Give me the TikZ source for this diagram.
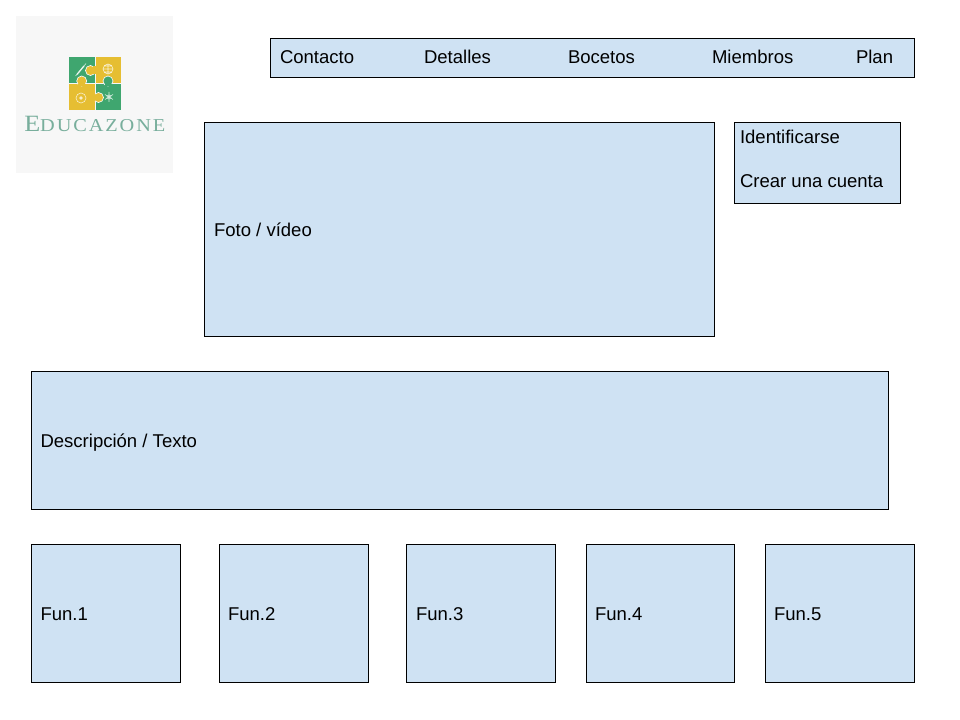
\documentclass[tikz,border=0pt]{standalone}
\usepackage{fontspec}
\setmainfont{Liberation Sans}
\newfontfamily\logofont{Liberation Serif}
\definecolor{boxblue}{HTML}{CFE2F3}
\definecolor{logobg}{HTML}{F7F7F7}
\definecolor{logogreen}{HTML}{3FA66F}
\definecolor{logoyellow}{HTML}{E6BE32}
\definecolor{logotext}{HTML}{78AE9C}
\tikzset{
  panel/.style 2 args={draw=black,fill=boxblue,line width=0.75pt,rectangle,anchor=north west,inner sep=0pt,outer sep=0pt,minimum width=#1*0.75pt,minimum height=#2*0.75pt},
  lbl/.style={anchor=base west,inner sep=0pt,outer sep=0pt,text=black,font=\fontsize{13.9pt}{16pt}\selectfont},
  greenpiece/.style={fill=logogreen,draw=logobg,line width=0.5pt},
  yellowpiece/.style={fill=logoyellow,draw=logobg,line width=0.5pt},
  iconline/.style={draw=white,line width=0.45pt,opacity=.75}
}
\begin{document}
\begin{tikzpicture}[x=0.75pt,y=-0.75pt]
\useasboundingbox (0,0) rectangle (960,720);
% logo
\fill[logobg] (16,16) rectangle (173,173);
\fill[logogreen] (69,57.5) rectangle (94.5,83);
\fill[logoyellow] (95.5,57.5) rectangle (121,83);
\fill[logoyellow] (69,84) rectangle (94.5,110);
\fill[logogreen] (95.5,84) rectangle (121,110);
% knobs
\path[yellowpiece] (90.5,70.5) circle (5);
\fill[logoyellow] (92.5,66.5) rectangle (96,74.5);
\path[yellowpiece] (81.7,81) circle (5);
\fill[logoyellow] (78,84.5) rectangle (85.5,86);
\path[greenpiece] (108,81) circle (5);
\fill[logogreen] (104.5,84.5) rectangle (111.5,86);
\path[yellowpiece] (98.5,97.5) circle (5);
\fill[logoyellow] (92,93.5) rectangle (95,101.5);
\draw[iconline] (75.5,76) -- (86,63.5);
\draw[iconline,line width=1pt] (77,74.5) -- (84,66);
\draw[iconline] (108,69) circle (5) (103,69) -- (113,69) (108,64) -- (108,74) (104,66) -- (112,66) (104,72) -- (112,72);
\draw[iconline] (81,98) circle (5);
\fill[white,opacity=.75] (81,98) circle (1.8);
\draw[iconline] (109,97) circle (2) (109,92) -- (109,102) (105,94.5) -- (113,99.5) (105,99.5) -- (113,94.5);
\node[anchor=base west,inner sep=0pt,text=logotext] (logotitle) at (24,131.5) {\logofont\fontsize{17.5pt}{17pt}\selectfont\addfontfeature{FakeStretch=1.12}E\fontsize{13.6pt}{14pt}\selectfont\addfontfeature{FakeStretch=1.12,LetterSpace=10.5}DUCAZONE};
% menu
\node[panel={644}{39}] (menu) at (270.5,38.5) {};
\node[lbl] (contacto) at (280,64) {Contacto};
\node[lbl] (detalles) at (424,64) {Detalles};
\node[lbl] (bocetos) at (568,64) {Bocetos};
\node[lbl] (miembros) at (712,64) {Miembros};
\node[lbl] (plan) at (856,64) {Plan};
% foto
\node[panel={510}{214}] (foto) at (204.5,122.5) {};
\node[lbl] (fototxt) at (214,237) {Foto / vídeo};
% login
\node[panel={166}{81}] (login) at (734.5,122.5) {};
\node[lbl] (ident) at (740,144) {Identificarse};
\node[lbl] (crear) at (740,188) {Crear una cuenta};
% description
\node[panel={857}{138}] (desc) at (31.5,371.5) {};
\node[lbl] (desctxt) at (40.5,447) {Descripción / Texto};
% functions
\node[panel={149}{138}] (funA) at (31.5,544.5) {};
\node[lbl] (funAt) at (40.5,620) {Fun.1};
\node[panel={149}{138}] (funB) at (219.5,544.5) {};
\node[lbl] (funBt) at (228,620) {Fun.2};
\node[panel={149}{138}] (funC) at (406.5,544.5) {};
\node[lbl] (funCt) at (416,620) {Fun.3};
\node[panel={148}{138}] (funD) at (586.5,544.5) {};
\node[lbl] (funDt) at (595,620) {Fun.4};
\node[panel={149}{138}] (funE) at (765.5,544.5) {};
\node[lbl] (funEt) at (774,620) {Fun.5};
\end{tikzpicture}
\end{document}
